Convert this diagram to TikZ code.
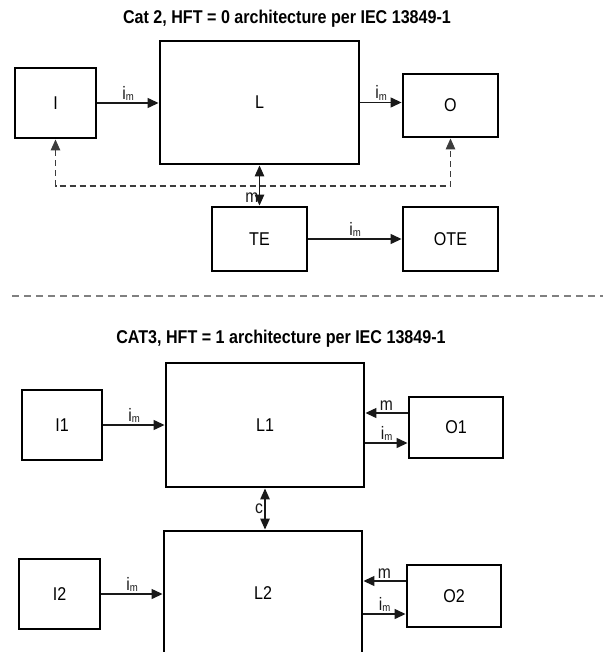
\documentclass[tikz,border=0pt]{standalone}
\usepackage{fontspec}
\setmainfont{Liberation Sans}[FakeStretch=0.87]
\usepackage{tikz}
\usetikzlibrary{arrows.meta}
\definecolor{cline}{RGB}{25,25,25}
\definecolor{cdash}{RGB}{60,60,60}
\newcommand{\subim}{i\raisebox{-1.5pt}{\fontsize{11}{11}\selectfont m}}

\begin{document}
\begin{tikzpicture}[x=1pt, y=-1pt,
  blk/.style={draw, line width=2.9pt, inner sep=0pt, font=\fontsize{18.5}{21}\selectfont},
  arr/.style={-{Triangle[length=11pt,width=10pt]}, line width=1.3pt, cline},
  darr/.style={{Triangle[length=11pt,width=9.5pt]}-{Triangle[length=11pt,width=9.5pt]}, line width=1.3pt, cline},
  lbl/.style={font=\fontsize{18}{20}\selectfont, inner sep=1.5pt},
  ttl/.style={font=\fontsize{18.5}{21}\bfseries\selectfont}]
\useasboundingbox (0,0) rectangle (603,652);
\clip (0,0) rectangle (603,652);
\fill[white] (0,0) rectangle (603,652);
% Cat 2
\node[ttl] (t1) at (287,19) {Cat 2, HFT = 0 architecture per IEC 13849-1};
\node[blk, minimum width=81pt, minimum height=70pt] (I) at (55.5,103) {I};
\node[blk, minimum width=199pt, minimum height=123pt] (L) at (259.5,102.5) {L};
\node[blk, minimum width=95pt, minimum height=63pt] (O) at (450.5,105.5) {O};
\node[blk, minimum width=95pt, minimum height=64pt] (TE) at (259.5,239) {TE};
\node[blk, minimum width=95pt, minimum height=64pt] (OTE) at (450.5,239) {OTE};
\draw[arr] (I.east) -- (I.east -| L.west)
  node[lbl, midway, above] {\subim};
\draw[arr] (L.east) -- (L.east -| O.west)
  node[lbl, midway, above] {\subim};
\coordinate (bus) at (0,186);
\draw[darr, cdash, dash pattern=on 6pt off 4pt] (I.south) -- (I.south |- bus) -| (O.south);
\draw[darr] (L.south) -- (TE.north)
  node[lbl, pos=0.8, left, inner sep=0.5pt] {m};
\draw[arr] (TE.east) -- (OTE.west)
  node[lbl, midway, above] {\subim};
\draw[gray, line width=1.2pt, dash pattern=on 7pt off 5pt] (12,296) -- (603,296);
% CAT3
\node[ttl] (t2) at (281,339) {CAT3, HFT = 1 architecture per IEC 13849-1};
\node[blk, minimum width=80pt, minimum height=70pt] (I1) at (62,425) {I1};
\node[blk, minimum width=198pt, minimum height=124pt] (L1) at (265,425) {L1};
\node[blk, minimum width=94pt, minimum height=61pt] (O1) at (456,427.5) {O1};
\node[blk, minimum width=81pt, minimum height=70pt] (I2) at (59.5,594) {I2};
\node[blk, minimum width=198pt, minimum height=124pt] (L2) at (263,593) {L2};
\node[blk, minimum width=94pt, minimum height=62pt] (O2) at (454,596) {O2};
\draw[arr] (I1.east) -- (I1.east -| L1.west)
  node[lbl, midway, above] {\subim};
\coordinate (m1) at ([yshift=14.5pt]O1.west);
\coordinate (i1) at ([yshift=-15.5pt]O1.west);
\draw[arr] (m1) -- (m1 -| L1.east)
  node[lbl, midway, above] {m};
\draw[arr] (i1 -| L1.east) -- (i1)
  node[lbl, midway, above] {\subim};
\draw[darr] (L1.south) -- (L1.south |- L2.north)
  node[lbl, midway, left] {c};
\draw[arr] (I2.east) -- (I2.east -| L2.west)
  node[lbl, midway, above] {\subim};
\coordinate (m2) at ([yshift=15pt]O2.west);
\coordinate (i2) at ([yshift=-18pt]O2.west);
\draw[arr] (m2) -- (m2 -| L2.east)
  node[lbl, midway, above] {m};
\draw[arr] (i2 -| L2.east) -- (i2)
  node[lbl, midway, above] {\subim};
\end{tikzpicture}
\end{document}
